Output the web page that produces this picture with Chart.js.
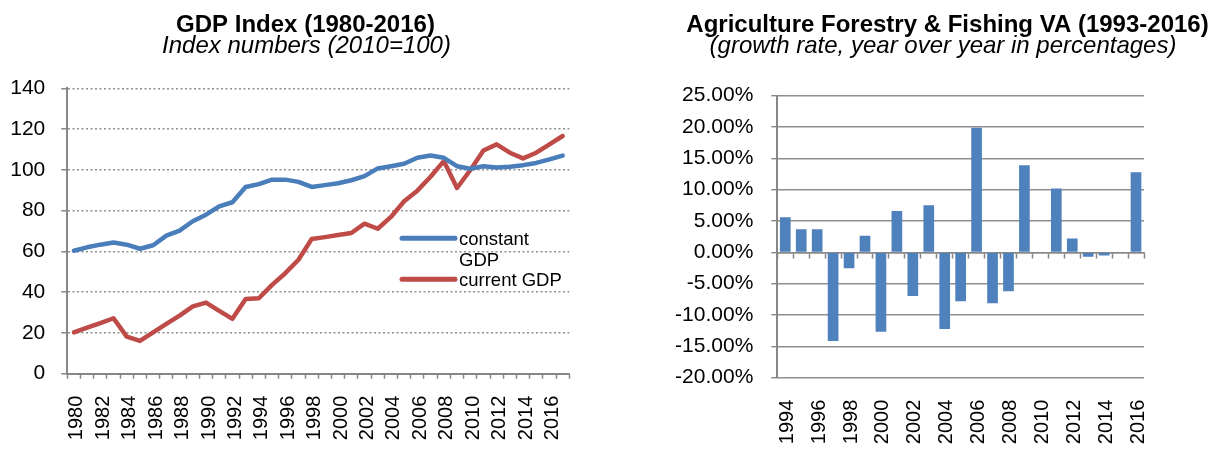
<!DOCTYPE html>
<html>
<head>
<meta charset="utf-8">
<script src="https://cdn.jsdelivr.net/npm/chart.js@4/dist/chart.umd.min.js"></script>
<style>
  html, body { margin: 0; padding: 0; background: #fff; }
  body { width: 1208px; height: 449px; position: relative; overflow: hidden; }
  .box { position: absolute; top: 0; width: 604px; height: 449px; }
  #leftBox { left: 0; }
  #rightBox { left: 604px; }
</style>
</head>
<body>
<div class="box" id="leftBox"><canvas id="gdpChart"></canvas></div>
<div class="box" id="rightBox"><canvas id="agriChart"></canvas></div>
<script>
// left chart data (index numbers, 2010=100)
const gdpYears = ["1980","1981","1982","1983","1984","1985","1986","1987","1988","1989",
  "1990","1991","1992","1993","1994","1995","1996","1997","1998","1999",
  "2000","2001","2002","2003","2004","2005","2006","2007","2008","2009",
  "2010","2011","2012","2013","2014","2015","2016","2017"];
const constantGdp = [60.3, 62, 63.3, 64.4, 63.3, 61.3, 63, 67.7, 70.2, 74.8,
  78, 82.1, 84.1, 91.6, 93, 95.2, 95.2, 94.1, 91.6, 92.5,
  93.4, 94.9, 96.9, 100.7, 101.8, 103, 105.9, 107, 105.9, 101.8,
  100.5, 101.8, 101.1, 101.5, 102.3, 103.4, 105.1, 107];
const currentGdp = [20.3, 22.6, 24.8, 27.2, 18.2, 16.1, 20.3, 24.4, 28.5, 33,
  34.9, 30.8, 26.9, 36.7, 37, 43.6, 49.3, 55.9, 66.1, 67,
  68, 69, 73.6, 71.1, 76.9, 84.6, 89.8, 96.6, 104.3, 91.1,
  99.8, 109.5, 112.5, 108.4, 105.6, 108.4, 112.5, 116.6];
const gdpTicks = [0, 20, 40, 60, 80, 100, 120, 140];

// right chart data (growth rate, %)
const agriYears = ["1994","1995","1996","1997","1998","1999","2000","2001","2002","2003",
  "2004","2005","2006","2007","2008","2009","2010","2011","2012","2013",
  "2014","2015","2016"];
const agriGrowth = [5.6, 3.7, 3.7, -14.15, -2.55, 2.66, -12.66, 6.6, -6.97, 7.5,
  -12.23, -7.8, 19.9, -8.1, -6.2, 13.9, 0, 10.2, 2.2, -0.7,
  -0.5, 0, 12.8];
const agriTicks = [-20, -15, -10, -5, 0, 5, 10, 15, 20, 25];

const fontFamily = 'Arial, "Liberation Sans", sans-serif';
const axisGray = "#878787";
Chart.defaults.font.family = fontFamily;
Chart.defaults.color = "#000";

// title + italic subtitle, drawn at fixed centres
const titlePlugin = {
  id: "twoLineTitle",
  afterDraw(chart, args, opts) {
    const ctx = chart.ctx;
    ctx.save();
    ctx.fillStyle = "#000";
    ctx.textAlign = "center";
    ctx.textBaseline = "alphabetic";
    ctx.font = "bold 24px " + fontFamily;
    ctx.fillText(opts.text, opts.x, opts.y);
    ctx.font = "italic 24px " + fontFamily;
    ctx.fillText(opts.subtext, opts.subX, opts.subY);
    ctx.restore();
  }
};

// legend inside the plot, text wrapped like the original
const insideLegend = {
  id: "insideLegend",
  afterDraw(chart, args, opts) {
    const ctx = chart.ctx;
    ctx.save();
    ctx.font = opts.fontSize + "px " + fontFamily;
    ctx.textAlign = "left";
    ctx.textBaseline = "alphabetic";
    let baseline = opts.y;
    chart.data.datasets.forEach((ds) => {
      // wrap words
      const words = ds.label.split(" ");
      const lines = [];
      let cur = "";
      words.forEach((w) => {
        const test = cur ? cur + " " + w : w;
        if (cur && ctx.measureText(test).width > opts.maxWidth) {
          lines.push(cur);
          cur = w;
        } else {
          cur = test;
        }
      });
      lines.push(cur);

      ctx.strokeStyle = ds.borderColor;
      ctx.lineWidth = opts.swatchWidth;
      ctx.lineCap = "round";
      ctx.beginPath();
      ctx.moveTo(opts.x + 2, baseline - opts.swatchOffset);
      ctx.lineTo(opts.x + opts.swatchLength - 2, baseline - opts.swatchOffset);
      ctx.stroke();

      ctx.fillStyle = "#000";
      lines.forEach((line) => {
        ctx.fillText(line, opts.x + opts.swatchLength + 2, baseline);
        baseline += opts.lineHeight;
      });
    });
    ctx.restore();
  }
};

const gdpChart = new Chart(document.getElementById("gdpChart"), {
  type: "line",
  data: {
    labels: gdpYears,
    datasets: [
      {
        label: "constant GDP",
        data: constantGdp,
        borderColor: "#4A7EBB",
        borderWidth: 4.5,
        pointRadius: 0,
        tension: 0,
        borderJoinStyle: "round",
        borderCapStyle: "round",
      },
      {
        label: "current GDP",
        data: currentGdp,
        borderColor: "#BE4B48",
        borderWidth: 4.5,
        pointRadius: 0,
        tension: 0,
        borderJoinStyle: "round",
        borderCapStyle: "round",
      },
    ],
  },
  options: {
    responsive: true,
    maintainAspectRatio: false,
    animation: false,
    layout: { padding: { top: 88.3, right: 24.7, left: 0, bottom: 0 } },
    scales: {
      x: {
        type: "category",
        offset: true,
        grid: { offset: true, drawOnChartArea: false, tickLength: 5, color: axisGray, tickWidth: 1.5 },
        border: { color: axisGray, width: 2 },
        ticks: {
          autoSkip: false,
          minRotation: 90,
          maxRotation: 90,
          padding: 17,
          labelOffset: 3,
          font: { size: 20 },
          callback: function (value, index) {
            return index % 2 === 0 ? this.getLabelForValue(value) : "";
          },
        },
        afterFit: (scale) => { scale.height = 75.3; },
      },
      y: {
        min: 0,
        max: 140,
        afterBuildTicks: (scale) => { scale.ticks = gdpTicks.map((v) => ({ value: v })); },
        grid: { color: "#8f8f8f", lineWidth: 1.5, tickLength: 6, tickColor: axisGray, tickWidth: 1.5 },
        border: { color: axisGray, width: 2, dash: [2, 2.5] },
        ticks: { padding: 16, font: { size: 21 } },
        afterFit: (scale) => { scale.width = 67.3; },
      },
    },
    plugins: {
      legend: { display: false },
      tooltip: { enabled: false },
      twoLineTitle: {
        text: "GDP Index (1980-2016)", x: 305.5, y: 31.5,
        subtext: "Index numbers (2010=100)", subX: 306.5, subY: 53,
      },
      insideLegend: {
        x: 400, y: 245, swatchLength: 57, swatchWidth: 5, swatchOffset: 6.7,
        lineHeight: 20.5, fontSize: 18.5, maxWidth: 110,
      },
    },
  },
  plugins: [titlePlugin, insideLegend],
});

const agriChart = new Chart(document.getElementById("agriChart"), {
  type: "bar",
  data: {
    labels: agriYears,
    datasets: [
      {
        label: "growth rate",
        data: agriGrowth,
        backgroundColor: "#4F81BD",
        borderWidth: 0,
        categoryPercentage: 1,
        barPercentage: 0.67,
      },
    ],
  },
  options: {
    responsive: true,
    maintainAspectRatio: false,
    animation: false,
    layout: { padding: { top: 95.7, right: 64, left: 0, bottom: 0 } },
    scales: {
      // labels sit low, below the plot
      x: {
        type: "category",
        offset: true,
        grid: { display: false, drawTicks: false },
        border: { display: false },
        ticks: {
          autoSkip: false,
          minRotation: 90,
          maxRotation: 90,
          padding: 22,
          labelOffset: 2,
          font: { size: 20 },
          callback: function (value, index) {
            return index % 2 === 0 ? this.getLabelForValue(value) : "";
          },
        },
        afterFit: (scale) => { scale.height = 71.3; },
      },
      // axis line with tick marks crossing at zero
      x0: {
        type: "category",
        position: { y: 0 },
        offset: true,
        grid: { offset: true, drawOnChartArea: false, tickLength: 5, color: axisGray, tickWidth: 1.5 },
        border: { color: axisGray, width: 1.5 },
        ticks: { display: false },
      },
      y: {
        min: -20,
        max: 25,
        afterBuildTicks: (scale) => { scale.ticks = agriTicks.map((v) => ({ value: v })); },
        grid: { color: "#8f8f8f", lineWidth: 1.4, tickLength: 6, tickColor: axisGray, tickWidth: 1.4 },
        border: { color: axisGray, width: 2 },
        ticks: {
          padding: 18,
          font: { size: 21 },
          callback: (value) => value.toFixed(2) + "%",
        },
        afterFit: (scale) => { scale.width = 173.3; },
      },
    },
    plugins: {
      legend: { display: false },
      tooltip: { enabled: false },
      twoLineTitle: {
        text: "Agriculture Forestry & Fishing VA (1993-2016)", x: 343.5, y: 31.5,
        subtext: "(growth rate, year over year in percentages)", subX: 339, subY: 53,
      },
    },
  },
  plugins: [titlePlugin],
});
</script>
</body>
</html>
